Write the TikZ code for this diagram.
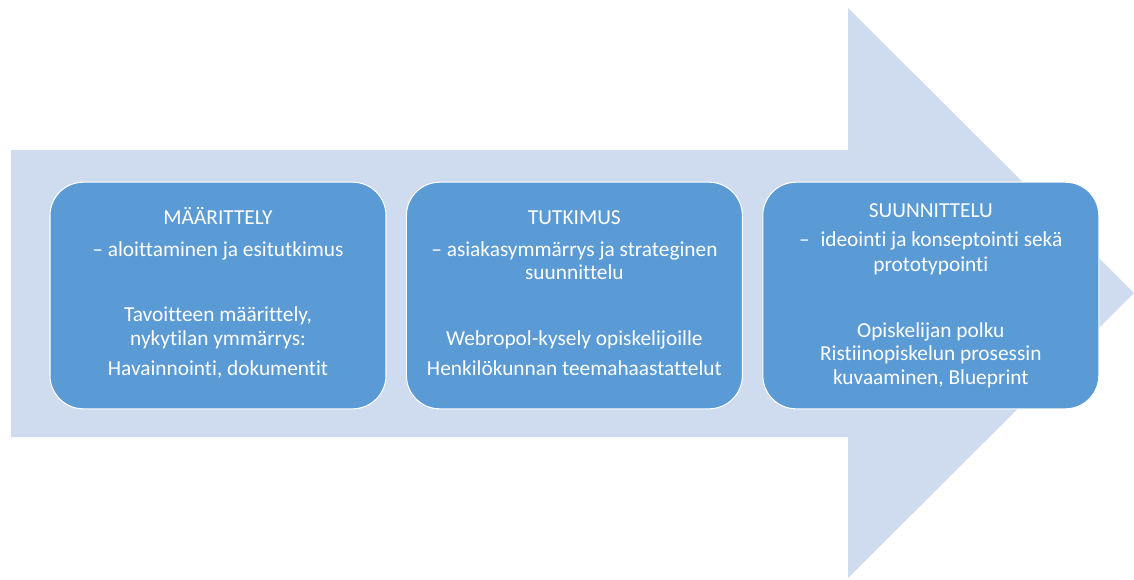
\documentclass[tikz,border=0pt]{standalone}
\usepackage{fontspec}
\setmainfont{Carlito}[Ligatures={TeX,NoCommon}]
\usetikzlibrary{positioning}
\definecolor{arrowfill}{RGB}{207,219,238}
\definecolor{phasefill}{RGB}{91,155,213}
\tikzset{
phase/.style = {draw=white, line width=0.8pt, fill=phasefill, rectangle, rounded corners=25pt, minimum width=252pt, minimum height=170pt},
phasetext/.style = {align=center, inner sep=0pt, text=white, font=\fontsize{16}{17.5}\selectfont},
}

\begin{document}
\begin{tikzpicture}[x=0.75pt,y=-0.75pt]
        \useasboundingbox (0,0) rectangle (1134,579);
        %big arrow behind the phases
        \fill [arrowfill] (11,150) -- (848,150) -- (848,8) -- (1134,293) -- (848,578) -- (848,437) -- (11,437) -- cycle;
        %phase boxes
        \node [phase] (m1) at (218,295.5) {};
        \node [phase, right=14.5pt of m1] (m2) {};
        \node [phase, right=14.5pt of m2] (m3) {};
        %texts
        \node [phasetext, below=18.8pt of m1.north] (t1) {\vphantom{Ä}MÄÄRITTELY\\[6.5pt]
                – aloittaminen ja esitutkimus\\[31.8pt]
                Tavoitteen määrittely,\\
                nykytilan ymmärrys:\\[5pt]
                Havainnointi, dokumentit};
        \node [phasetext, below=18.8pt of m2.north] (t2) {\vphantom{Ä}TUTKIMUS\\[6.5pt]
                – asiakasymmärrys ja strateginen\\
                suunnittelu\\[32pt]
                Webropol-kysely opiskelijoille\\[5pt]
                Henkilökunnan teemahaastattelut};
        \node [phasetext, below=13.8pt of m3.north] (t3) {\vphantom{Ä}SUUNNITTELU\\[4.5pt]
                –\enspace ideointi ja konseptointi sekä\\[1pt]
                prototypointi\\[32pt]
                Opiskelijan polku\\
                Ristiinopiskelun prosessin\\
                kuvaaminen, Blueprint};
\end{tikzpicture}
\end{document}
